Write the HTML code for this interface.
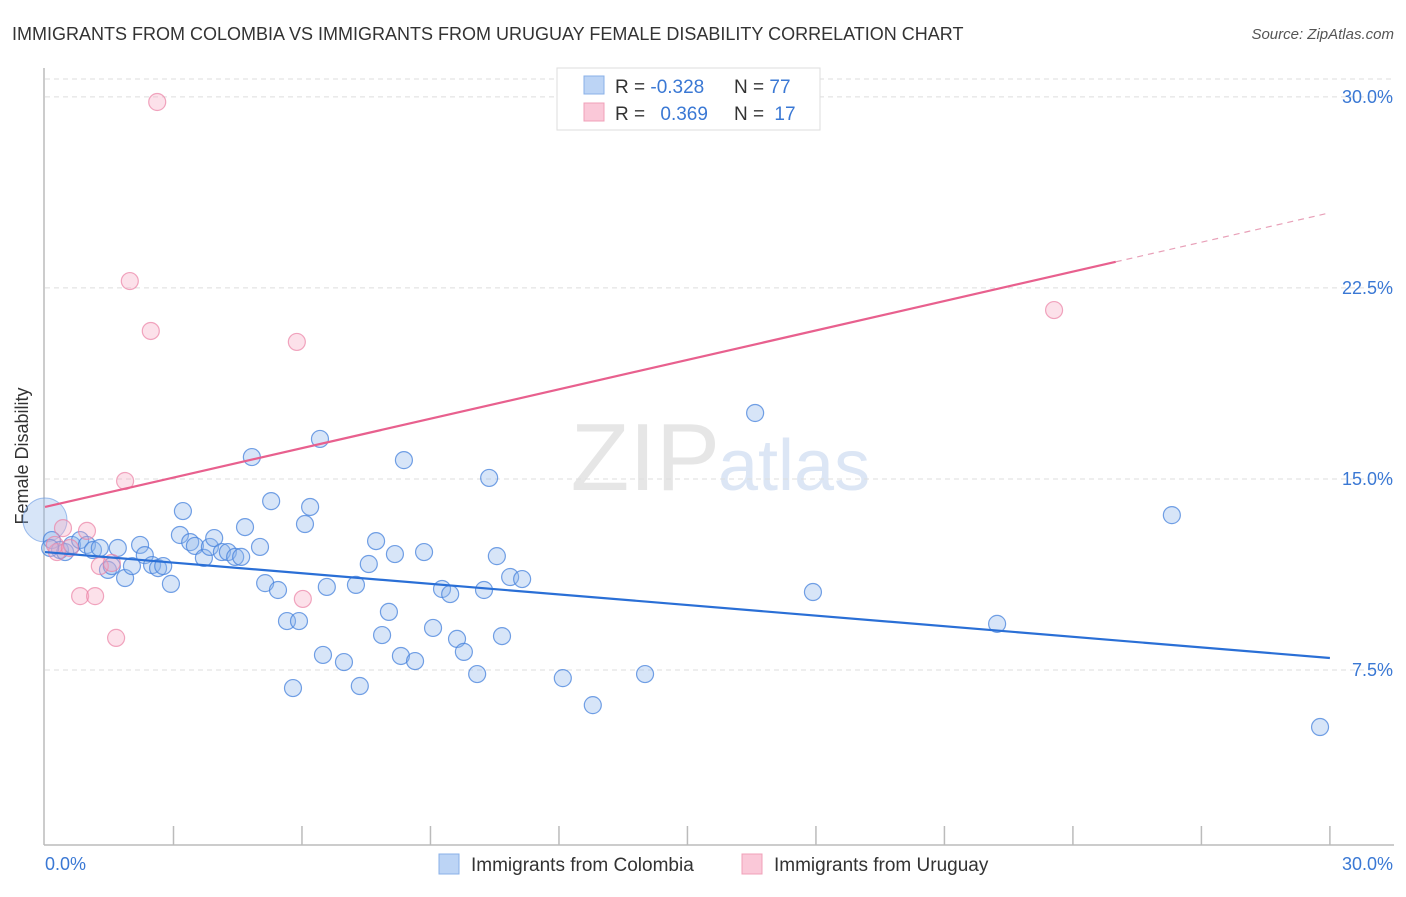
<!DOCTYPE html>
<html><head><meta charset="utf-8"><style>
body{margin:0;background:#fff;font-family:"Liberation Sans",sans-serif;}
svg text{font-family:"Liberation Sans",sans-serif;}
</style></head><body>
<svg id="chart" width="1406" height="892" xmlns="http://www.w3.org/2000/svg">
<text x="12" y="40" font-size="18" fill="#333">IMMIGRANTS FROM COLOMBIA VS IMMIGRANTS FROM URUGUAY FEMALE DISABILITY CORRELATION CHART</text>
<text x="1394" y="39" font-size="15" fill="#555" font-style="italic" text-anchor="end">Source: ZipAtlas.com</text>
<text x="720" y="490" font-size="96" fill="#e6e6e6" text-anchor="end" font-family="Liberation Serif">ZIP</text>
<text x="718" y="490" font-size="72" fill="#dce6f5">atlas</text>
<g id="grid"></g>
<line x1="44" y1="68" x2="44" y2="845" stroke="#bbb" stroke-width="1.5"/>
<line x1="44" y1="845" x2="1394" y2="845" stroke="#bbb" stroke-width="1.5"/>
<g id="ticks"></g>
<text x="28" y="456" font-size="18" fill="#333" text-anchor="middle" transform="rotate(-90 28 456)">Female Disability</text>
<text x="45" y="870" font-size="18" fill="#3a78d4">0.0%</text>
<text x="1393" y="870" font-size="18" fill="#3a78d4" text-anchor="end">30.0%</text>
<g id="points"></g>
<g id="lines"></g>
<g>
<rect x="557" y="68" width="263" height="62" fill="#fff" stroke="#ddd"/>
<rect x="584" y="76" width="20" height="18" fill="#bcd4f5" stroke="#8ab0e8"/>
<rect x="584" y="103" width="20" height="18" fill="#fac8d8" stroke="#f0a0b8"/>
<text x="615" y="93" font-size="19" fill="#333">R = <tspan fill="#3a78d4">-0.328</tspan></text>
<text x="734" y="93" font-size="19" fill="#333">N = <tspan fill="#3a78d4">77</tspan></text>
<text x="615" y="120" font-size="19" fill="#333">R = <tspan fill="#3a78d4" dx="10">0.369</tspan></text>
<text x="734" y="120" font-size="19" fill="#333">N = <tspan fill="#3a78d4" dx="5">17</tspan></text>
</g>
<g>
<rect x="439" y="854" width="20" height="20" fill="#bcd4f5" stroke="#8ab0e8"/>
<text x="471" y="871" font-size="19" fill="#333">Immigrants from Colombia</text>
<rect x="742" y="854" width="20" height="20" fill="#fac8d8" stroke="#f0a0b8"/>
<text x="774" y="871" font-size="19" fill="#333">Immigrants from Uruguay</text>
</g>
</svg>
<script>
const yTicks=[7.5,15,22.5,30];
const yTickLabels=["7.5%","15.0%","22.5%","30.0%"];
const blueX=[0.16,0.35,0.47,0.63,0.82,0.98,1.12,1.28,1.47,1.56,1.70,1.87,2.03,2.22,2.33,2.50,2.64,2.76,2.94,3.15,3.22,3.39,3.50,3.71,3.85,3.95,4.13,4.27,4.44,4.58,4.67,4.83,5.02,5.14,5.28,5.44,5.65,5.79,5.93,6.07,6.19,6.42,6.49,6.58,6.98,7.26,7.35,7.56,7.73,7.87,8.03,8.17,8.31,8.38,8.64,8.85,9.06,9.27,9.46,9.62,9.78,10.09,10.25,10.37,10.55,10.67,10.86,11.14,12.09,12.79,14.01,16.58,17.93,22.23,26.31,29.77,0.12];
const blueY=[12.60,12.21,12.13,12.41,12.60,12.41,12.21,12.29,11.43,11.58,12.29,11.11,11.58,12.41,12.01,11.62,11.50,11.58,10.88,12.80,13.74,12.52,12.37,11.90,12.33,12.68,12.13,12.13,11.94,11.94,13.11,15.86,12.33,10.91,14.13,10.64,9.42,6.79,9.42,13.23,13.90,16.57,8.09,10.76,7.81,10.84,6.87,11.66,12.56,8.87,9.78,12.05,8.05,15.74,7.85,12.13,9.15,10.68,10.48,8.72,8.21,7.34,10.64,15.04,11.97,8.83,11.15,11.07,7.18,6.12,7.34,17.59,10.56,9.31,13.58,5.26,12.29];
const pinkX=[0.28,0.42,0.98,1.28,0.82,1.17,1.56,1.66,1.87,1.98,2.47,2.62,5.88,6.02,23.56,0.23,0.58];
const pinkY=[12.13,13.07,12.96,11.58,10.40,10.40,11.70,8.76,14.92,22.77,20.81,29.80,20.38,10.29,21.63,12.41,12.29];
const blueTrend=[12.13,7.97];
const pinkTrend=[13.90,25.45];
const pinkSolidEnd=25;
const NS='http://www.w3.org/2000/svg';
const sx=v=>45+v*42.83, sy=v=>861-v*25.47;
function mk(t,a,p){const e=document.createElementNS(NS,t);for(const k in a)e.setAttribute(k,a[k]);p.appendChild(e);return e;}
const grid=document.getElementById('grid');
yTicks.forEach((t,i)=>{
 const l=mk('line',{x1:45,x2:1394,y1:sy(t),y2:sy(t),stroke:'#ddd','stroke-dasharray':'5,4'},grid);
 
 
 const tx=mk('text',{x:1393,y:sy(t)+6,'font-size':18,fill:'#3a78d4','text-anchor':'end'},grid);
 tx.textContent=yTickLabels[i];
 
 
});
const tl=mk('line',{x1:45,x2:1394,y1:79,y2:79,stroke:'#ddd','stroke-dasharray':'5,4'},grid);


const ticks=document.getElementById('ticks');
for(let i=1;i<=10;i++){const x=sx(i*3);const t=mk('line',{x1:x,x2:x,y1:826,y2:845,stroke:'#bbb','stroke-width':1.5},ticks);
 
 }
const pts=document.getElementById('points');
const big=mk('circle',{cx:45,cy:520,r:22,fill:'rgba(140,180,235,0.35)',stroke:'rgba(100,150,225,0.6)'},pts);


blueX.forEach((x,i)=>{const c=mk('circle',{cx:sx(x),cy:sy(blueY[i]),r:8.5,fill:'rgba(140,180,235,0.35)',stroke:'rgba(70,130,220,0.75)','stroke-width':1.2},pts);
 
 });
pinkX.forEach((x,i)=>{const c=mk('circle',{cx:sx(x),cy:sy(pinkY[i]),r:8.5,fill:'rgba(245,170,195,0.35)',stroke:'rgba(235,130,165,0.7)','stroke-width':1.2},pts);
 
 });
const lines=document.getElementById('lines');
const bl=mk('line',{x1:sx(0),y1:sy(blueTrend[0]),x2:sx(30),y2:sy(blueTrend[1]),stroke:'#2a6fd6','stroke-width':2.2},lines);


const pm=pinkTrend[0]+(pinkTrend[1]-pinkTrend[0])*pinkSolidEnd/30;
const pl=mk('line',{x1:sx(0),y1:sy(pinkTrend[0]),x2:sx(pinkSolidEnd),y2:sy(pm),stroke:'#e8608e','stroke-width':2.2},lines);


const pd=mk('line',{x1:sx(pinkSolidEnd),y1:sy(pm),x2:sx(30),y2:sy(pinkTrend[1]),stroke:'#e8a0b8','stroke-width':1.2,'stroke-dasharray':'6,5'},lines);


</script>
</body></html>
